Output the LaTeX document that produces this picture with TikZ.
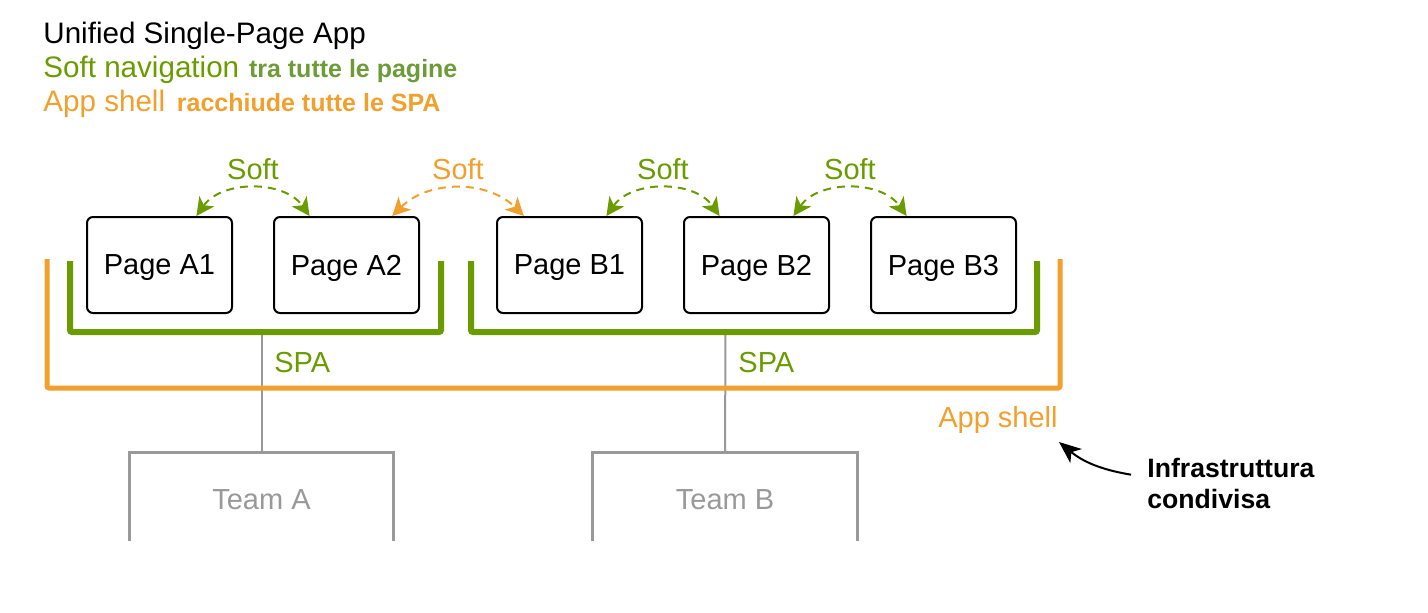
\documentclass[tikz,border=0pt]{standalone}
\usepackage{fontspec}
\setmainfont{Liberation Sans}
\usetikzlibrary{arrows.meta,positioning}
\definecolor{spagreen}{RGB}{106,156,0}
\definecolor{notegreen}{RGB}{108,155,55}
\definecolor{shellorange}{RGB}{241,160,46}
\definecolor{teamgray}{RGB}{153,153,153}
\tikzset{
	headtext/.style={font=\fontsize{14.8}{17}\selectfont, inner sep=0pt},
	bigtext/.style={font=\fontsize{14.5}{17}\selectfont, inner sep=0pt},
	smalltext/.style={font=\bfseries\fontsize{12.5}{15}\selectfont, inner sep=0pt},
	page/.style={draw=black, fill=white, line width=1pt, rounded corners=3pt, minimum width=72.5pt, minimum height=48pt, text depth=0pt, font=\fontsize{14.5}{17}\selectfont},
	softarrow/.style={dash pattern=on 4pt off 3pt, line width=1pt, {Stealth[length=9pt,width=9pt,inset=2.5pt]}-{Stealth[length=9pt,width=9pt,inset=2.5pt]}},
	spabracket/.style={draw=spagreen, line width=3pt, rounded corners=1pt},
	shellbracket/.style={draw=shellorange, line width=2.5pt, rounded corners=1pt},
	teambox/.style={draw=teamgray, line width=1.2pt},
	teamlink/.style={draw=teamgray, line width=1pt},
	infraarrow/.style={-{Stealth[length=11pt,width=9pt,inset=3pt]}, line width=1pt},
}

\begin{document}
\begin{tikzpicture}[x=0.5pt, y=0.5pt]
	%%%%% START %%%%%
	\useasboundingbox (0,0) rectangle (1428,-612);

	\node[headtext, anchor=base west] (title) at (43,-43) {Unified Single-Page App};
	\node[headtext, anchor=base west, text=spagreen] (navlabel) at (43,-77) {Soft navigation};
	\node[smalltext, anchor=base west, text=notegreen] (navnote) at ([xshift=4.5pt]navlabel.base east) {tra tutte le pagine};
	\node[headtext, anchor=base west, text=shellorange] (shelllabel) at (43,-111) {App shell};
	\node[smalltext, anchor=base west, text=shellorange] (shellnote) at ([xshift=5.5pt]shelllabel.base east) {racchiude tutte le SPA};

	% teams
	\coordinate (spaA) at (261.5,-332);
	\coordinate (spaB) at (725.5,-332);
	\node[bigtext, text=teamgray, text height=13pt, minimum width=131.5pt, minimum height=44pt] (TeamA) at (261.5,-497) {Team A};
	\node[bigtext, text=teamgray, text height=13pt, minimum width=132pt, minimum height=44pt] (TeamB) at (725,-497) {Team B};
	\draw[teambox] (TeamA.south west) -- (TeamA.north west) -- (TeamA.north east) -- (TeamA.south east);
	\draw[teambox] (TeamB.south west) -- (TeamB.north west) -- (TeamB.north east) -- (TeamB.south east);
	\draw[teamlink] (spaA) -- (TeamA.north);
	\draw[teamlink] (spaB) -- (TeamB.north);

	% brackets
	\draw[shellbracket] (47,-259) -- (47,-388) -- (1060,-388) -- (1060,-259);
	\draw[spabracket] (70,-261) -- (70,-332) -- (441,-332) -- (441,-261);
	\draw[spabracket] (471,-261) -- (471,-332) -- (1037,-332) -- (1037,-261);
	\node[bigtext, anchor=base west, text=spagreen] (spaAname) at (274,-372) {SPA};
	\node[bigtext, anchor=base west, text=spagreen] (spaBname) at (738,-372) {SPA};
	\node[bigtext, anchor=base east, text=shellorange] (shellname) at (1058,-427) {App shell};

	% pages
	\node[page] (A1) at (159.5,-265) {Page A1};
	\node[page] (A2) at (346.5,-265) {Page A2};
	\node[page] (B1) at (569.5,-265) {Page B1};
	\node[page] (B2) at (756.5,-265) {Page B2};
	\node[page] (B3) at (943.5,-265) {Page B3};

	\draw[softarrow, spagreen] (A1.53) to[bend left=55] node[midway, above=4pt, bigtext, text=spagreen] (softA) {Soft} (A2.127);
	\draw[softarrow, shellorange] (A2.47) to[bend left=45] node[midway, above=4pt, bigtext, text=shellorange] (softAB) {Soft} (B1.133);
	\draw[softarrow, spagreen] (B1.53) to[bend left=55] node[midway, above=4pt, bigtext, text=spagreen] (softB) {Soft} (B2.127);
	\draw[softarrow, spagreen] (B2.53) to[bend left=55] node[midway, above=4pt, bigtext, text=spagreen] (softBB) {Soft} (B3.127);

	% shared infrastructure
	\node[font=\bfseries\fontsize{13.3}{15.5}\selectfont, inner sep=0pt, align=left, anchor=north west] (infra) at (1147,-458) {Infrastruttura\\condivisa};
	\coordinate (infratip) at (1059,-442);
	\draw[infraarrow] ([shift={(-16,9)}]infra.west) to[bend left=15] (infratip);
	%%%%% END %%%%%
\end{tikzpicture}
\end{document}
